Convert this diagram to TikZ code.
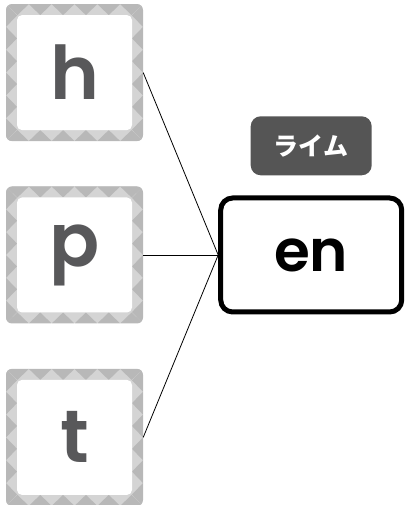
\documentclass[tikz,border=0pt]{standalone}
\usepackage{fontspec}
\setmainfont{Poppins}
\newfontfamily\semifont{Poppins SemiBold}
\newfontfamily\jpfont{Noto Sans CJK JP}
\usetikzlibrary{positioning, backgrounds}
\definecolor{tilelight}{HTML}{D4D4D4}
\definecolor{tiledark}{HTML}{B8B8B8}
\definecolor{lettergray}{HTML}{58585A}
\definecolor{tagfill}{HTML}{555555}
\tikzset{
	tile/.style={rectangle, inner sep=0, minimum size=137, text=lettergray,
		font=\semifont\fontsize{74}{74}\selectfont},
	rimebox/.style={rectangle, draw, line width=5, rounded corners=12,
		minimum width=181, minimum height=114,
		font=\semifont\fontsize{58}{58}\selectfont},
	tag/.style={rectangle, fill=tagfill, text=white, rounded corners=10,
		minimum width=121, minimum height=59,
		font=\jpfont\fontsize{25}{25}\selectfont\bfseries},
	link/.style={draw, line width=0.8},
}
\begin{document}
\begin{tikzpicture}[x=1pt, y=1pt]
\useasboundingbox (0,0) rectangle (405,505);

% onsets
\node [tile] (tilep) at (74.5,250) {p};
\node [tile, above=45 of tilep] (tileh) {h};
\node [tile, below=45 of tilep] (tilet) {t};

% rime
\node [rimebox, right=75 of tilep] (rime) {en};
\node [tag, above=20 of rime] (label) {ライム};

\foreach \n in {tileh, tilep, tilet}
	\path[link] (\n.east) -- (rime.west);

% tile frames
\begin{scope}[on background layer]
\foreach \n in {tileh, tilep, tilet} {
	\begin{scope}[shift={(\n.center)}]
	\clip[rounded corners=6] (-68.5,-68.5) rectangle (68.5,68.5);
	\fill[tilelight] (-68.5,-68.5) rectangle (68.5,68.5);
	\foreach \r in {0,90,180,270}
		\foreach \i in {0,...,5}
			\fill[tiledark, rotate=\r] (-68.5+\i*22.833,68.5) -- ++(22.833,0)
				-- ++(-11.417,-11) -- cycle;
	\fill[white, rounded corners=5] (-57.5,-57.5) rectangle (57.5,57.5);
	\end{scope}
}
\end{scope}

\end{tikzpicture}
\end{document}
